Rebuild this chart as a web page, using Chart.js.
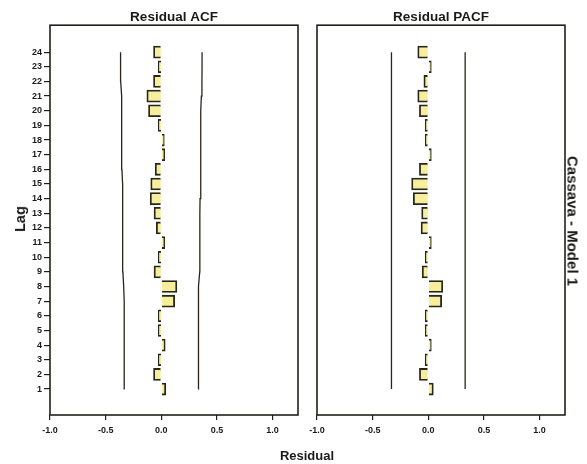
<!DOCTYPE html>
<html>
<head>
<meta charset="utf-8">
<title>Residual ACF / PACF - Cassava Model 1</title>
<script src="https://cdn.jsdelivr.net/npm/chart.js@4.4.1/dist/chart.umd.min.js"></script>
<style>
	body { margin: 0; background: #fff; }
	#wrap { position: relative; width: 587px; height: 464px; overflow: hidden; font-family: "Liberation Sans", Arial, sans-serif; }
	#acfBox { position: absolute; left: 0; top: 0; width: 300px; height: 464px; }
	#pacfBox { position: absolute; left: 300px; top: 0; width: 287px; height: 464px; }
	.lbl { position: absolute; font-weight: bold; color: #1a1a1a; white-space: nowrap; }
	#lagLbl { left: 20px; top: 219px; font-size: 14.5px; transform: translate(-50%, -50%) rotate(-90deg); }
	#resLbl { left: 307px; top: 455px; font-size: 13px; transform: translate(-50%, -50%); }
	#modelLbl { left: 573px; top: 221px; font-size: 15px; transform: translate(-50%, -50%) rotate(90deg); }
</style>
</head>
<body>
<div id="wrap">
	<div id="acfBox"><canvas id="acfChart"></canvas></div>
	<div id="pacfBox"><canvas id="pacfChart"></canvas></div>
	<div class="lbl" id="lagLbl">Lag</div>
	<div class="lbl" id="resLbl">Residual</div>
	<div class="lbl" id="modelLbl">Cassava - Model 1</div>
</div>
<script>
// Lags 1..24
var lags = [1, 2, 3, 4, 5, 6, 7, 8, 9, 10, 11, 12, 13, 14, 15, 16, 17, 18, 19, 20, 21, 22, 23, 24];

// Residual ACF
var acfValues = [0.04, -0.07, -0.01, 0.035, -0.01, -0.01, 0.12, 0.14, -0.065, -0.015, 0.03, -0.045,
	-0.065, -0.1, -0.095, -0.055, 0.03, 0.01, -0.02, -0.115, -0.13, -0.07, -0.005, -0.07];

// ACF confidence limits (widen slightly with lag)
var acfUpper = [0.331, 0.332, 0.333, 0.333, 0.334, 0.334, 0.334, 0.338, 0.345, 0.346, 0.346, 0.346,
	0.347, 0.348, 0.351, 0.354, 0.355, 0.355, 0.355, 0.356, 0.360, 0.365, 0.366, 0.366];
var acfLower = [-0.331, -0.332, -0.333, -0.333, -0.334, -0.334, -0.334, -0.338, -0.345, -0.346, -0.346, -0.346,
	-0.347, -0.348, -0.351, -0.354, -0.355, -0.355, -0.355, -0.356, -0.360, -0.365, -0.366, -0.366];

// Residual PACF
var pacfValues = [0.045, -0.08, -0.01, 0.025, -0.025, -0.015, 0.12, 0.13, -0.055, -0.01, 0.005, -0.065,
	-0.06, -0.135, -0.15, -0.08, 0.02, -0.01, -0.01, -0.08, -0.095, -0.04, 0.005, -0.095];

// PACF confidence limits (constant)
var pacfUpper = [0.331, 0.331, 0.331, 0.331, 0.331, 0.331, 0.331, 0.331, 0.331, 0.331, 0.331, 0.331,
	0.331, 0.331, 0.331, 0.331, 0.331, 0.331, 0.331, 0.331, 0.331, 0.331, 0.331, 0.331];
var pacfLower = [-0.331, -0.331, -0.331, -0.331, -0.331, -0.331, -0.331, -0.331, -0.331, -0.331, -0.331, -0.331,
	-0.331, -0.331, -0.331, -0.331, -0.331, -0.331, -0.331, -0.331, -0.331, -0.331, -0.331, -0.331];

var xTicks = [-1.0, -0.5, 0.0, 0.5, 1.0];

Chart.defaults.font.family = '"Liberation Sans", Arial, sans-serif';
Chart.defaults.color = '#1a1a1a';

// Draw the panel frame round the chart area.
var framePlugin = {
	id: 'frame',
	afterDraw: function(chart) {
		var a = chart.chartArea, ctx = chart.ctx;
		ctx.save();
		ctx.strokeStyle = '#231f18';
		ctx.lineWidth = 1.6;
		ctx.strokeRect(a.left, a.top, a.right - a.left, a.bottom - a.top);
		ctx.restore();
	}
};

function pts(values) {
	return values.map(function(v, i) { return { x: v, y: lags[i] }; });
}

function limitLine(values) {
	return {
		type: 'line',
		data: pts(values),
		borderColor: '#2a241c',
		borderWidth: 1.3,
		pointRadius: 0,
		fill: false
	};
}

function makeChart(id, title, values, upper, lower, showLags, padding) {
	return new Chart(document.getElementById(id).getContext('2d'), {
		type: 'bar',
		data: {
			datasets: [
				{
					data: pts(values),
					backgroundColor: '#f6ee9c',
					borderColor: '#26261a',
					borderWidth: 1.8,
					barThickness: 12,
					minBarLength: 3
				},
				limitLine(upper),
				limitLine(lower)
			]
		},
		options: {
			indexAxis: 'y',
			responsive: true,
			maintainAspectRatio: false,
			animation: false,
			layout: { padding: padding },
			plugins: {
				legend: { display: false },
				tooltip: { enabled: false },
				title: {
					display: true,
					text: title,
					fullSize: false,
					color: '#1a1a1a',
					font: { size: 13.5, weight: 'bold' },
					padding: { top: 9, bottom: 0 }
				}
			},
			scales: {
				x: {
					type: 'linear',
					min: -1.0,
					max: 1.228,
					afterBuildTicks: function(axis) {
						axis.ticks = xTicks.map(function(v) { return { value: v }; });
					},
					afterFit: function(axis) { axis.height = 49; },
					grid: { drawOnChartArea: false, tickLength: 5, color: '#231f18', lineWidth: 1.2 },
					border: { display: false },
					ticks: {
						padding: 5,
						font: { size: 9, weight: 'bold' },
						callback: function(v) { return Number(v).toFixed(1); }
					}
				},
				y: {
					type: 'linear',
					display: showLags,
					offset: false,
					min: -0.77,
					max: 25.84,
					afterBuildTicks: function(axis) {
						axis.ticks = lags.map(function(v) { return { value: v }; });
					},
					afterFit: function(axis) { axis.width = showLags ? 50 : 0; },
					grid: { offset: false, drawOnChartArea: false, tickLength: 6, color: '#231f18', lineWidth: 1.2 },
					border: { display: false },
					ticks: {
						padding: 2,
						autoSkip: false,
						font: { size: 9, weight: 'bold' }
					}
				}
			}
		},
		plugins: [framePlugin]
	});
}

makeChart('acfChart', 'Residual ACF', acfValues, acfUpper, acfLower, true, { left: 0, right: 2, top: 0, bottom: 0 });
makeChart('pacfChart', 'Residual PACF', pacfValues, pacfUpper, pacfLower, false, { left: 17, right: 22, top: 0, bottom: 0 });
</script>
</body>
</html>
